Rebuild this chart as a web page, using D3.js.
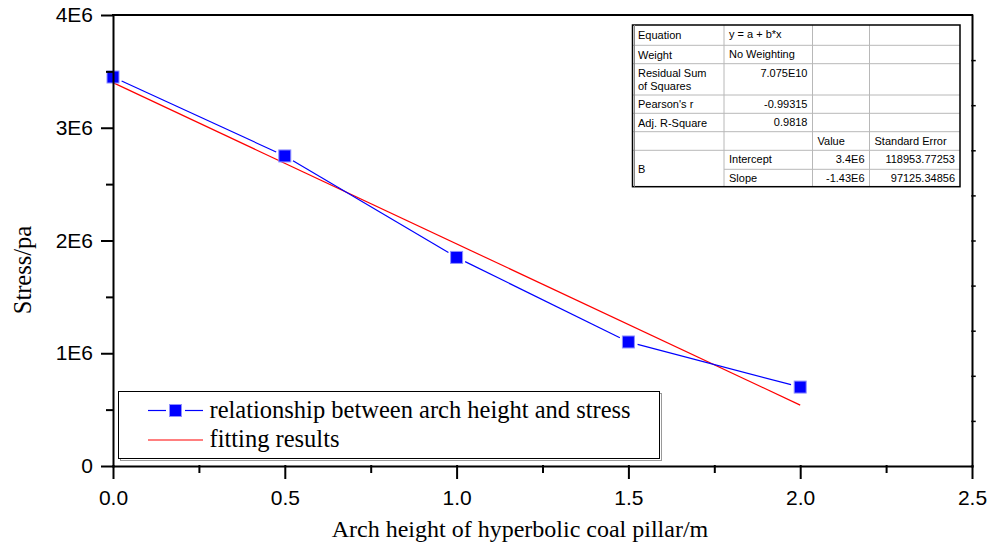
<!DOCTYPE html>
<html>
<head>
<meta charset="utf-8">
<script src="https://cdn.jsdelivr.net/npm/d3@7/dist/d3.min.js"></script>
<style>
body{margin:0;background:#fff}
svg{display:block}
</style>
</head>
<body>
<svg></svg>
<script>
// data
var archHeight = [0, 0.5, 1.0, 1.5, 2.0]
var stress = [3.45e6, 2.75e6, 1.85e6, 1.10e6, 0.70e6]
var fitX = [0, 2.0]
var fitY = [3.4e6, 0.54e6]

var xTicks = [0, 0.5, 1.0, 1.5, 2.0, 2.5]
var xTickLabels = ["0.0", "0.5", "1.0", "1.5", "2.0", "2.5"]
var xMinorTicks = [0.25, 0.75, 1.25, 1.75, 2.25]
var yTicks = [0, 1e6, 2e6, 3e6, 4e6]
var yTickLabels = ["0", "1E6", "2E6", "3E6", "4E6"]
var yMinorTicks = [0.5e6, 1.5e6, 2.5e6, 3.5e6]
var rightTicks = [0.4e6, 0.8e6, 1.2e6, 1.6e6, 2.0e6, 2.4e6, 2.8e6, 3.2e6, 3.6e6]

var legendLabels = ["relationship between arch height and stress", "fitting results"]

var tableRows = [
    ["Equation", "y = a + b*x", "", ""],
    ["Weight", "No Weighting", "", ""],
    ["Residual Sum\nof Squares", "7.075E10", "", ""],
    ["Pearson's r", "-0.99315", "", ""],
    ["Adj. R-Square", "0.9818", "", ""],
    ["", "", "Value", "Standard Error"],
    ["B", "Intercept", "3.4E6", "118953.77253"],
    ["", "Slope", "-1.43E6", "97125.34856"]
]

// layout
var screen = {width:999, height:549}
var margins = {top:15, right:27, bottom:83, left:113}
var width = screen.width - margins.left - margins.right
var height = screen.height - margins.top - margins.bottom

var sans = "'Liberation Sans', Arial, sans-serif"
var serif = "'Liberation Serif', 'Times New Roman', serif"

var svg = d3.select("svg")
    .attr("width", screen.width)
    .attr("height", screen.height)

var xScale = d3.scaleLinear()
    .domain([0, 2.5])
    .range([0, width])

var yScale = d3.scaleLinear()
    .domain([0, 4e6])
    .range([height, 0])

var graph = svg.append("g")
    .attr("id", "graph")
    .attr("transform", "translate(" + margins.left + "," + margins.top + ")")

// fitted line (under the data)
var line = d3.line()
    .x(function(d){return xScale(d[0])})
    .y(function(d){return yScale(d[1])})

graph.append("path")
    .datum(fitX.map(function(x, i){return [x, fitY[i]]}))
    .attr("d", line)
    .attr("fill", "none")
    .attr("stroke", "#ff0000")
    .attr("stroke-width", 1.2)

// data line, with gaps around the markers like Origin draws it
var pts = archHeight.map(function(x, i){return [xScale(x), yScale(stress[i])]})
var gap = 9.5
var segs = []
for (var i = 0; i < pts.length - 1; i++)
{
    var a = pts[i], b = pts[i+1]
    var dx = b[0] - a[0], dy = b[1] - a[1]
    var len = Math.sqrt(dx*dx + dy*dy)
    segs.push([a[0] + dx/len*gap, a[1] + dy/len*gap, b[0] - dx/len*gap, b[1] - dy/len*gap])
}
graph.selectAll(".seg")
    .data(segs)
    .enter()
    .append("line")
    .attr("class", "seg")
    .attr("x1", function(s){return s[0]})
    .attr("y1", function(s){return s[1]})
    .attr("x2", function(s){return s[2]})
    .attr("y2", function(s){return s[3]})
    .attr("stroke", "#0000ff")
    .attr("stroke-width", 1.2)

var msize = 12
graph.selectAll(".marker")
    .data(archHeight)
    .enter()
    .append("rect")
    .attr("class", "marker")
    .attr("x", function(x){return xScale(x) - msize/2})
    .attr("y", function(x, i){return yScale(stress[i]) - msize/2})
    .attr("width", msize)
    .attr("height", msize)
    .attr("fill", "#0000ff")
    .attr("stroke", "#9090ff")
    .attr("stroke-width", 1)

// axes
var styleAxis = function(g)
{
    g.selectAll("path,line").attr("stroke", "#000").attr("stroke-width", 2).attr("stroke-linecap", "square")
    g.selectAll("text").attr("font-family", sans).attr("font-size", 21).attr("fill", "#000")
}

graph.append("g")
    .attr("transform", "translate(0," + height + ")")
    .call(d3.axisBottom(xScale).tickValues(xTicks)
        .tickFormat(function(d, i){return xTickLabels[i]})
        .tickSize(12).tickSizeOuter(0).tickPadding(12))
    .call(styleAxis)

graph.append("g")
    .attr("transform", "translate(0," + height + ")")
    .call(d3.axisBottom(xScale).tickValues(xMinorTicks).tickFormat("").tickSize(6))
    .call(styleAxis)
    .select(".domain").remove()

graph.append("g")
    .call(d3.axisLeft(yScale).tickValues(yTicks)
        .tickFormat(function(d, i){return yTickLabels[i]})
        .tickSize(11).tickSizeOuter(0).tickPadding(9))
    .call(styleAxis)

graph.append("g")
    .call(d3.axisLeft(yScale).tickValues(yMinorTicks).tickFormat("").tickSize(6))
    .call(styleAxis)
    .select(".domain").remove()

graph.append("g")
    .attr("transform", "translate(" + width + ",0)")
    .call(d3.axisRight(yScale).tickValues(rightTicks).tickFormat("").tickSize(3).tickSizeOuter(0))
    .call(styleAxis)
    .selectAll("line").attr("stroke-width", 1.5)

graph.append("line")
    .attr("x1", 0).attr("x2", width)
    .attr("y1", 0).attr("y2", 0)
    .attr("stroke", "#000").attr("stroke-width", 2).attr("stroke-linecap", "square")

// axis titles
svg.append("text")
    .attr("x", 520)
    .attr("y", 537)
    .attr("text-anchor", "middle")
    .attr("font-family", serif)
    .attr("font-size", 24)
    .text("Arch height of hyperbolic coal pillar/m")

svg.append("text")
    .attr("transform", "translate(31,270) rotate(-90)")
    .attr("text-anchor", "middle")
    .attr("font-family", serif)
    .attr("font-size", 24.5)
    .text("Stress/pa")

// legend
var legend = svg.append("g").attr("id", "legend")
legend.append("rect")
    .attr("x", 120.5).attr("y", 393.5).attr("width", 541).attr("height", 67)
    .attr("fill", "none").attr("stroke", "#999").attr("stroke-width", 1)
legend.append("rect")
    .attr("x", 118.5).attr("y", 391.5).attr("width", 541).attr("height", 67)
    .attr("fill", "#fff").attr("stroke", "#000").attr("stroke-width", 1)

var legendY = [410.5, 440]
legend.selectAll(".lt")
    .data(legendLabels)
    .enter()
    .append("text")
    .attr("class", "lt")
    .attr("x", 209.5)
    .attr("y", function(d, i){return legendY[i] + 7})
    .attr("font-family", serif)
    .attr("font-size", 24.5)
    .text(function(d){return d})

legend.append("line").attr("x1", 148).attr("x2", 166).attr("y1", legendY[0]).attr("y2", legendY[0])
    .attr("stroke", "#0000ff").attr("stroke-width", 1.2)
legend.append("line").attr("x1", 185).attr("x2", 203).attr("y1", legendY[0]).attr("y2", legendY[0])
    .attr("stroke", "#0000ff").attr("stroke-width", 1.2)
legend.append("rect")
    .attr("x", 175.5 - msize/2).attr("y", legendY[0] - msize/2)
    .attr("width", msize).attr("height", msize)
    .attr("fill", "#0000ff").attr("stroke", "#9090ff").attr("stroke-width", 1)
legend.append("line").attr("x1", 148).attr("x2", 203).attr("y1", legendY[1]).attr("y2", legendY[1])
    .attr("stroke", "#ff0000").attr("stroke-width", 1.2)

// fit parameter table
var colX = [632.5, 724, 812.5, 869.5, 960]
var rowY = [25, 45.3, 63.7, 95, 113.3, 131.7, 150.3, 169.3, 186.7]
var table = svg.append("g").attr("id", "table")

table.append("rect")
    .attr("x", colX[0]).attr("y", rowY[0])
    .attr("width", colX[4] - colX[0]).attr("height", rowY[8] - rowY[0])
    .attr("fill", "#fff")

for (var r = 1; r < rowY.length - 1; r++)
{
    var startCol = (r == 7) ? 1 : 0
    table.append("line")
        .attr("x1", colX[startCol]).attr("x2", colX[4])
        .attr("y1", rowY[r]).attr("y2", rowY[r])
        .attr("stroke", "#b8b8b8").attr("stroke-width", 1)
}
for (var c = 1; c < colX.length - 1; c++)
{
    table.append("line")
        .attr("x1", colX[c]).attr("x2", colX[c])
        .attr("y1", rowY[0]).attr("y2", rowY[8])
        .attr("stroke", "#b8b8b8").attr("stroke-width", 1)
}
table.append("rect")
    .attr("x", colX[0]).attr("y", rowY[0])
    .attr("width", colX[4] - colX[0]).attr("height", rowY[8] - rowY[0])
    .attr("fill", "none").attr("stroke", "#000").attr("stroke-width", 1.5)
table.append("line")
    .attr("x1", colX[0] + 2).attr("x2", colX[0] + 2)
    .attr("y1", rowY[0]).attr("y2", rowY[8])
    .attr("stroke", "#888").attr("stroke-width", 1)

var isNumber = function(s){return /^-?[0-9.]+(E[0-9]+)?$/.test(s)}

tableRows.forEach(function(row, r)
{
    row.forEach(function(txt, c)
    {
        if (txt == "") return
        var top = rowY[r]
        var lines = txt.split("\n")
        var t = table.append("text")
            .attr("font-family", sans)
            .attr("font-size", 11)
            .attr("fill", "#000")
        if (c == 0)
        {
            var bottom = (txt == "B") ? rowY[r+2] : rowY[r+1]
            var mid = (top + bottom)/2
            var y0 = mid + 4 - (lines.length - 1)*6.25
            t.attr("x", colX[0] + 5.5)
            lines.forEach(function(l, k)
            {
                t.append("tspan").attr("x", colX[0] + 5.5).attr("y", y0 + k*12.5).text(l)
            })
        }
        else
        {
            var right = isNumber(txt)
            t.attr("x", right ? colX[c+1] - 5 : colX[c] + 5)
                .attr("y", top + 12.8)
                .attr("text-anchor", right ? "end" : "start")
                .text(txt)
        }
    })
})
</script>
</body>
</html>
